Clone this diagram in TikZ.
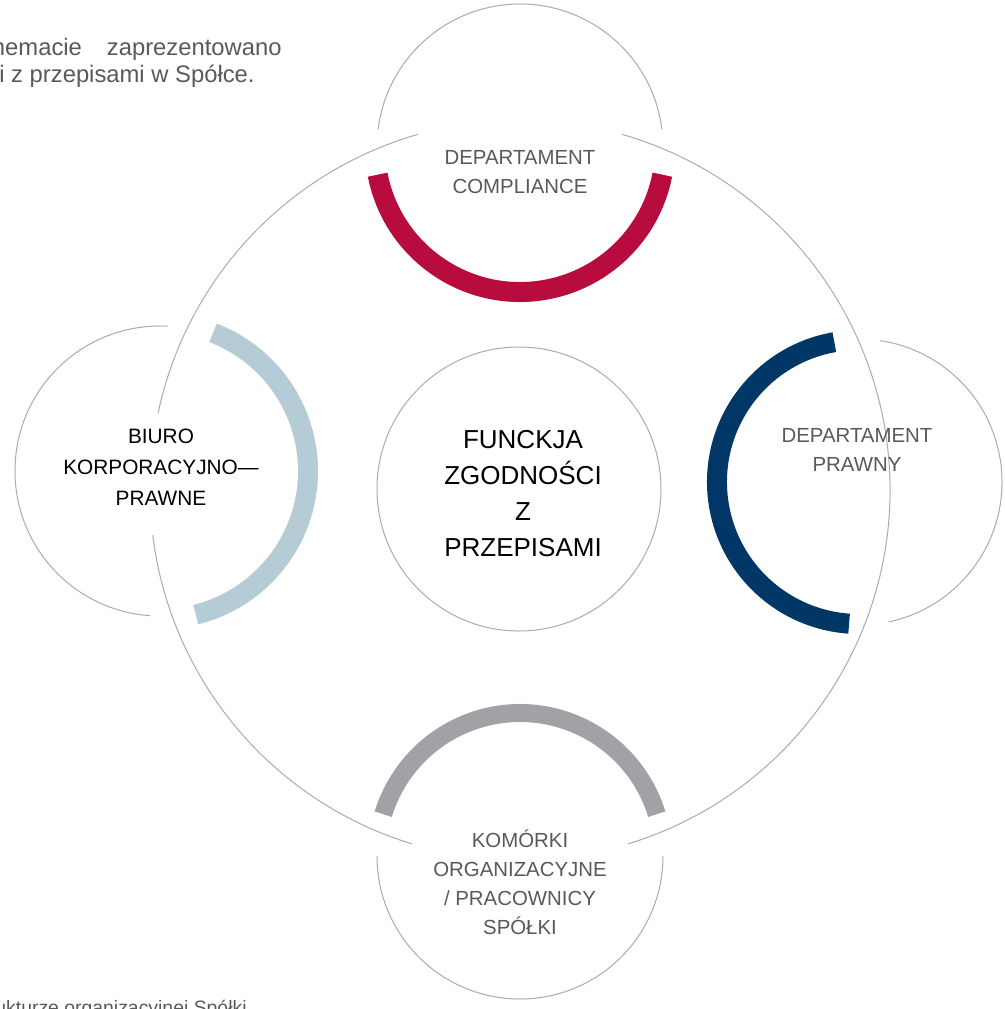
\documentclass[tikz,border=0pt]{standalone}
\usepackage{fontspec}
\setmainfont{Liberation Sans}
\usetikzlibrary{positioning}
\definecolor{textgray}{HTML}{595959}
\definecolor{linegray}{HTML}{ADAAAA}
\definecolor{crimson}{HTML}{B80C3F}
\definecolor{navy}{HTML}{003767}
\definecolor{paleblue}{HTML}{B5CBD5}
\definecolor{ringgray}{HTML}{A1A2A6}
\begin{document}
\begin{tikzpicture}[x=0.5pt,y=0.5pt,
  thinline/.style={draw=linegray,line width=0.5pt},
  ring/.style={line width=10pt},
  satlabel/.style={align=center,text=textgray,font=\fontsize{10.2}{14.5}\selectfont},
  prose/.style={text=textgray,inner sep=0pt}]
\useasboundingbox (0,0) rectangle (1005,-1009);
\clip (0,0) rectangle (1005,-1009);

\coordinate (big) at (520,-490);
\coordinate (top) at (520,-147);
\coordinate (right) at (859,-482);
\coordinate (bottom) at (520,-856);
\coordinate (left) at (160,-471);

% the big circle, broken where the satellites sit
\foreach \a/\b in {106/168,187/253,287/434}
  \draw[thinline] (big) ++(\a:370) arc[start angle=\a,end angle=\b,radius=370];

% satellites
\draw[thinline] (top) ++(7:143) arc[start angle=7,end angle=173,radius=143];
\draw[ring,crimson] (top) ++(-169:145) arc[start angle=-169,end angle=-11,radius=145];

\draw[thinline] (right) ++(-78:143) arc[start angle=-78,end angle=81.5,radius=143];
\draw[ring,navy] (right) ++(100:142) arc[start angle=100,end angle=266,radius=142];

\draw[thinline] (bottom) ++(180:143) arc[start angle=180,end angle=360,radius=143];
\draw[ring,ringgray,line width=9pt] (bottom) ++(17:143) arc[start angle=17,end angle=163,radius=143];

\draw[thinline] (left) ++(87:145) arc[start angle=87,end angle=266,radius=145];
\draw[ring,paleblue] (left) ++(-76:148) arc[start angle=-76,end angle=69,radius=148];

% centre
\node[circle,thinline,minimum size=142pt,inner sep=0pt] (core) at (519,-489) {};
\node[align=center,font=\fontsize{13}{18}\selectfont] (coretext) at ([shift={(4,-5)}]core.center) {FUNCKJA\\ZGODNOŚCI\\Z\\PRZEPISAMI};

% labels
\node[satlabel] (compliance) at (520,-172.5) {DEPARTAMENT\\COMPLIANCE};
\node[satlabel] (prawny) at (857,-450) {DEPARTAMENT\\PRAWNY};
\node[satlabel] (komorki) at (520,-882) {KOMÓRKI\\ORGANIZACYJNE\\/ PRACOWNICY\\SPÓŁKI};
\node[satlabel,text=black,font=\fontsize{10.4}{15.5}\selectfont] (biuro) at (161,-467) {BIURO\\KORPORACYJNO—\\PRAWNE};

% cut text at the edges
\node[prose,anchor=base east,font=\fontsize{11.9}{13.5}\selectfont] (intro1) at (282,-55) {hemacie\hspace{12.5pt}zaprezentowano};
\node[prose,anchor=base east,font=\fontsize{11.9}{13.5}\selectfont] (intro2) at (255,-82) {i z przepisami w Spółce.};
\node[prose,anchor=base west,font=\fontsize{9.7}{12}\selectfont] (source) at (-5,-1014) {ukturze organizacyjnej Spółki};
\end{tikzpicture}
\end{document}
